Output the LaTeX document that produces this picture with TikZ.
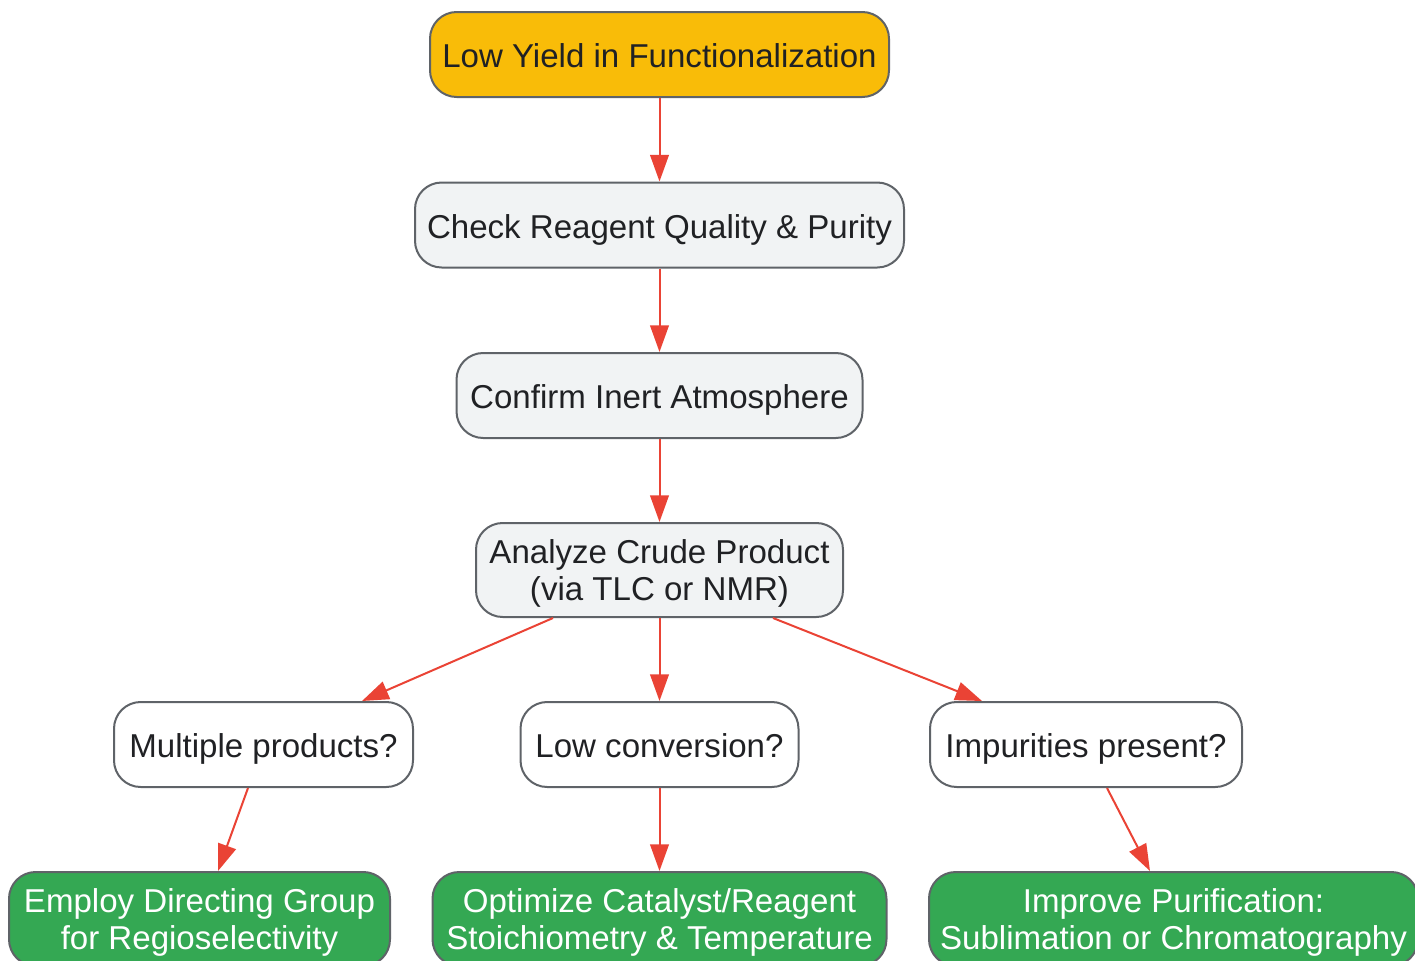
\documentclass[tikz,border=0pt]{standalone}
\usepackage{fontspec}
\setmainfont{Liberation Sans}
\usetikzlibrary{arrows.meta,calc,positioning}
\definecolor{amber}{HTML}{F9BC08}
\definecolor{paleg}{HTML}{F1F3F4}
\definecolor{leaf}{HTML}{34A853}
\definecolor{edge}{HTML}{5F6368}
\definecolor{ink}{HTML}{202124}
\definecolor{flowred}{HTML}{EA4335}

\begin{document}
\begin{tikzpicture}[x=0.75pt,y=-0.75pt,
  box/.style={draw=edge,line width=1.5pt,rounded corners=20pt,align=center,
    text=ink,inner sep=0pt,minimum height=63.75pt,text height=20pt,text depth=0pt,
    font=\fontsize{24.8pt}{28pt}\selectfont},
  twoline/.style={text height=,text depth=-4pt,minimum height=70.5pt},
  start/.style={box,fill=amber},
  check/.style={box,fill=paleg},
  quest/.style={box,fill=white},
  fix/.style={box,twoline,fill=leaf,text=white},
  flow/.style={draw=flowred,line width=1.5pt,-{Triangle[length=20pt,width=14pt]}}]
  \useasboundingbox (0,0) rectangle (1415,961);
  \node (low) [start,minimum width=344.25pt] at (659.5,54.5) {Low Yield in Functionalization};
  \node (reag) [check,minimum width=366.75pt] at (659.5,225) {Check Reagent Quality \& Purity};
  \node (inert) [check,minimum width=304.5pt] at (659.5,395.5) {Confirm Inert Atmosphere};
  \node (crude) [check,twoline,minimum width=275.25pt] at (659.5,570) {Analyze Crude Product\\(via TLC or NMR)};
  % the three questions
  \node (multi) [quest,minimum width=224.25pt] at (263.5,744.5) {Multiple products?};
  \node (conv) [quest,minimum width=208.5pt] at (659.5,744.5) {Low conversion?};
  \node (impur) [quest,minimum width=234pt] at (1086,744.5) {Impurities present?};
  % remedies, cut off at the lower edge
  \node (dirgrp) [fix,minimum width=285.75pt] at (199.5,919) {Employ Directing Group\\for Regioselectivity};
  \node (optim) [fix,minimum width=340.5pt] at (659.5,919) {Optimize Catalyst/Reagent\\Stoichiometry \& Temperature};
  \node (purif) [fix,minimum width=366.75pt] at (1173.5,919) {Improve Purification:\\Sublimation or Chromatography};
  \draw [flow] (low) -- (reag);
  \draw [flow] (reag) -- (inert);
  \draw [flow] (inert) -- (crude);
  \draw [flow] ($(crude.south)+(-106.5,0)$) -- ($(multi.north)+(98.5,0)$);
  \draw [flow] (crude.south) -- (conv.north);
  \draw [flow] ($(crude.south)+(113.5,0)$) -- ($(impur.north)+(-104,0)$);
  \draw [flow] ($(multi.south)+(-15.5,0)$) -- ($(dirgrp.north)+(18.5,0)$);
  \draw [flow] (conv) -- (optim);
  \draw [flow] ($(impur.south)+(21,0)$) -- ($(purif.north)+(-23.5,0)$);
\end{tikzpicture}
\end{document}
